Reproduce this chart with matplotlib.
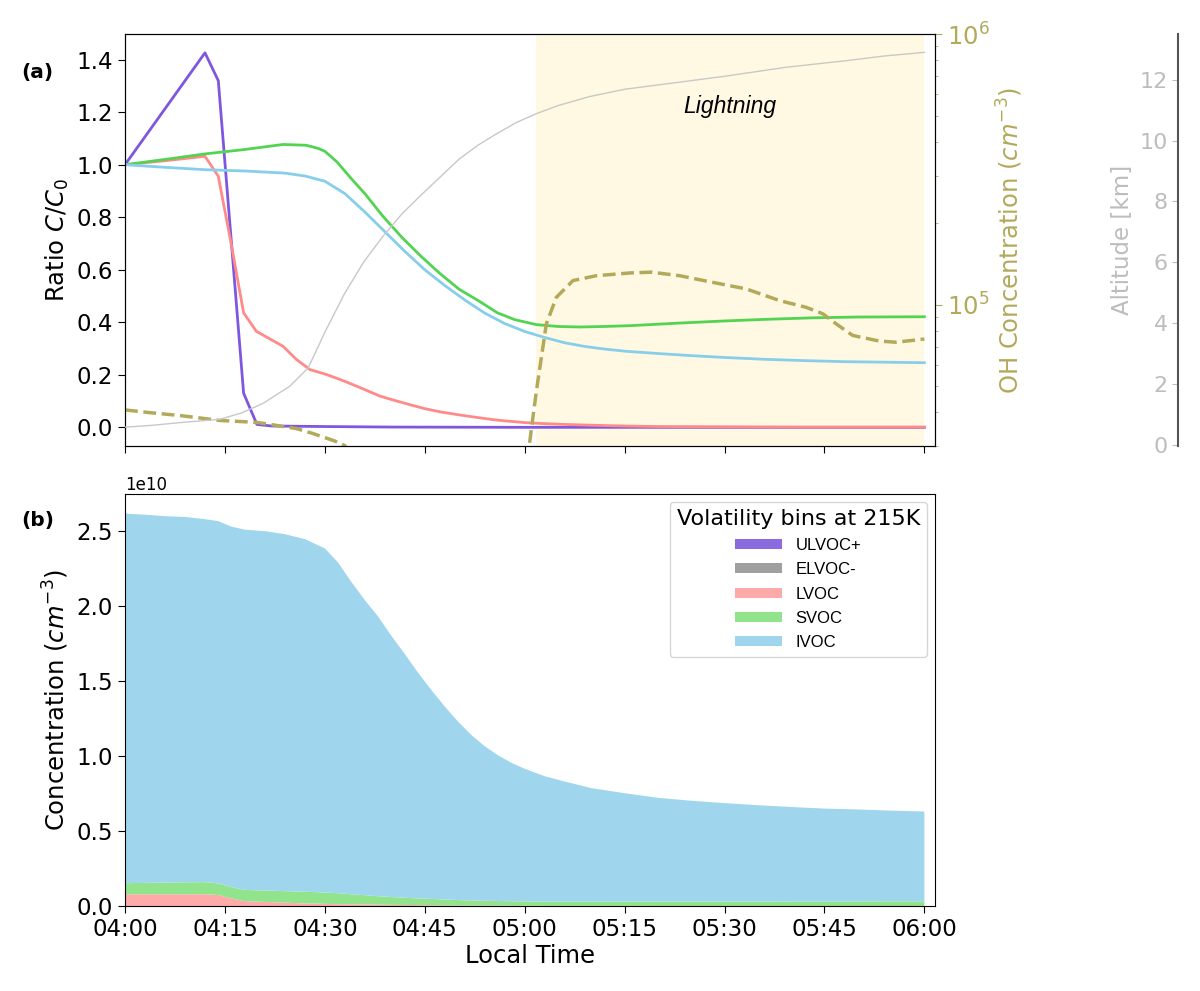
#!/usr/bin/env python3
"""Volatility-bin ratios along the trajectory (a) and stacked concentrations (b)."""

import numpy as np
import matplotlib
matplotlib.use("Agg")
import matplotlib.pyplot as plt
from matplotlib.ticker import FuncFormatter, MultipleLocator

OUT = "out.png"
PURPLE = "#7E57DE"
RED = "#FF8A8A"
GREEN = "#52D452"
BLUE = "#87CEEB"
OH_COLOR = "#B3A95B"
ALT_LINE = "#C8C8C8"
ALT_TEXT = "#BDBDBD"
LIGHTNING_FILL = "#FFF9E3"
FILL_COLORS = ["#8C6BE0", "#A0A0A0", "#FFAAAA", "#92E48C", "#A0D6ED"]

# ---- panel (a): ratio C/C0, minutes after 04:00 ----
t_ulvoc = [0, 12, 14, 17.8, 19.8, 22, 30, 40, 60, 90, 120]
r_ulvoc = [1.0, 1.426, 1.32, 0.13, 0.011, 0.005, 0.003, 0.001, 0.0, 0.0, 0.0]

t_lvoc = [0, 6, 12, 14, 16, 17.8, 19.7, 21.5, 23.7, 25.75, 27.75, 30.25, 32.5,
          34.75, 38.25, 40.4, 42.5, 45, 47.5, 50, 53, 56, 60, 63, 66, 70, 75,
          80, 90, 100, 110, 120]
r_lvoc = [1.0, 1.015, 1.032, 0.956, 0.69, 0.436, 0.366, 0.34, 0.309, 0.258,
          0.22, 0.201, 0.18, 0.157, 0.119, 0.103, 0.088, 0.071, 0.058, 0.048,
          0.037, 0.027, 0.018, 0.014, 0.011, 0.008, 0.005, 0.003, 0.002, 0.001,
          0.001, 0.001]

t_svoc = [0, 6, 12, 18, 23.7, 27.2, 29, 30, 31.8, 34.1, 36, 38.7, 41.5, 44.4,
          47.3, 50.2, 53.25, 55.9, 58.5, 61.75, 65, 68.25, 72, 75.75, 83.25, 90,
          96, 103.3, 110, 120]
r_svoc = [1.0, 1.02, 1.041, 1.058, 1.077, 1.074, 1.062, 1.051, 1.011, 0.943,
          0.89, 0.804, 0.725, 0.652, 0.585, 0.525, 0.479, 0.436, 0.41, 0.391,
          0.384, 0.382, 0.384, 0.387, 0.397, 0.405, 0.411, 0.417, 0.42, 0.421]

t_ivoc = [0, 6, 12, 18, 24, 27, 30, 33, 36, 39, 42, 45, 48, 51, 54, 57, 60, 63,
          66, 69, 72, 75, 80, 85, 90, 96, 102, 108, 114, 120]
r_ivoc = [1.0, 0.99, 0.981, 0.976, 0.968, 0.957, 0.937, 0.89, 0.82, 0.745,
          0.67, 0.60, 0.54, 0.485, 0.435, 0.395, 0.365, 0.342, 0.322, 0.308,
          0.298, 0.29, 0.281, 0.273, 0.266, 0.259, 0.254, 0.25, 0.248, 0.246]

# altitude of the air parcel [km]
t_alt = [0, 4, 8.25, 14.25, 17.5, 20.7, 24.75, 27.5, 30, 32.9, 35.8, 38.7, 41.6,
         44.4, 47.3, 50.2, 53, 55.9, 58.8, 61.7, 65, 69.8, 75.1, 83.25, 89.9,
         99.25, 108, 114, 120]
altitude = [0.58, 0.64, 0.73, 0.84, 1.05, 1.36, 1.93, 2.53, 3.7, 4.95, 6.0,
            6.85, 7.6, 8.2, 8.8, 9.4, 9.85, 10.24, 10.6, 10.88, 11.15, 11.45,
            11.69, 11.92, 12.11, 12.41, 12.62, 12.78, 12.9]

# OH concentration [cm-3]
t_oh = [0, 4, 8.25, 14.25, 19.75, 22, 25.75, 28, 29.75, 31.5, 33, 35, 37, 58,
        60, 61.75, 63.25, 64.75, 67.25, 70.75, 75.75, 79, 83.25, 88.25, 93.25,
        98.25, 102.25, 104.75, 106.75, 109.25, 113.25, 115.75, 120]
oh_conc = [4.08e4, 3.98e4, 3.89e4, 3.73e4, 3.67e4, 3.60e4, 3.48e4, 3.35e4,
           3.24e4, 3.13e4, 3.01e4, 2.5e4, 1.3e4, 1.3e4, 2.24e4, 4.79e4,
           8.49e4, 1.064e5, 1.227e5, 1.279e5, 1.309e5, 1.318e5, 1.279e5,
           1.208e5, 1.143e5, 1.035e5, 9.77e4, 9.25e4, 8.49e4, 7.69e4, 7.33e4,
           7.26e4, 7.46e4]

LIGHTNING_START = 61.7
LIGHTNING_END = 120

# ---- panel (b): concentrations [1e10 cm-3] ----
t_conc = [0, 3, 6, 9, 12, 14, 16, 18, 21, 24, 27, 30, 32, 34, 36, 38, 40, 42,
          44, 46, 48, 50, 52, 54, 56, 58, 60, 63, 66, 70, 75, 80, 85, 90, 95,
          100, 105, 110, 115, 120]
c_ulvoc = [0.0] * len(t_conc)
c_elvoc = [0.0] * len(t_conc)
c_lvoc = [0.078, 0.078, 0.078, 0.078, 0.078, 0.073, 0.050, 0.032, 0.027, 0.022,
          0.017, 0.014, 0.012, 0.011, 0.010, 0.009, 0.0075, 0.0065, 0.0055,
          0.005, 0.004, 0.0035, 0.003, 0.0025, 0.002, 0.0016, 0.0013, 0.001,
          0.0007, 0.0005, 0.0003, 0.0002, 0.0001, 0.0001, 0, 0, 0, 0, 0, 0]
c_svoc = [0.074, 0.076, 0.078, 0.080, 0.081, 0.077, 0.075, 0.075, 0.076, 0.077,
          0.078, 0.076, 0.073, 0.067, 0.062, 0.056, 0.052, 0.048, 0.045, 0.042,
          0.039, 0.036, 0.034, 0.032, 0.031, 0.030, 0.029, 0.0285, 0.0285,
          0.0287, 0.029, 0.0293, 0.0296, 0.030, 0.0302, 0.0304, 0.0306, 0.0308,
          0.031, 0.031]
c_ivoc = [2.465, 2.456, 2.444, 2.437, 2.421, 2.417, 2.405, 2.403, 2.397, 2.381,
          2.352, 2.295, 2.205, 2.082, 1.968, 1.865, 1.741, 1.626, 1.505, 1.393,
          1.287, 1.19, 1.103, 1.031, 0.972, 0.923, 0.885, 0.836, 0.801, 0.757,
          0.723, 0.692, 0.672, 0.656, 0.642, 0.63, 0.619, 0.613, 0.605, 0.599]
bin_labels = ["ULVOC+", "ELVOC-", "LVOC", "SVOC", "IVOC"]

TICK_SIZE = 16.5
LABEL_SIZE = 17.5

plt.rcParams.update({"font.family": "DejaVu Sans", "font.size": 15})


def hhmm(x, _pos):
    minutes = int(round(x))
    return f"{4 + minutes // 60:02d}:{minutes % 60:02d}"


def main():
    fig = plt.figure(figsize=(12, 9.91), dpi=100)
    ax = fig.add_axes([0.1042, 0.5499, 0.675, 0.4157])
    axb = fig.add_axes([0.1042, 0.0858, 0.675, 0.4157], sharex=ax)

    # panel (a)
    ax.axvspan(LIGHTNING_START, LIGHTNING_END, color=LIGHTNING_FILL, lw=0, zorder=0)
    ax.plot(t_ulvoc, r_ulvoc, color=PURPLE, lw=2.0)
    ax.plot(t_lvoc, r_lvoc, color=RED, lw=2.0)
    ax.plot(t_svoc, r_svoc, color=GREEN, lw=2.0)
    ax.plot(t_ivoc, r_ivoc, color=BLUE, lw=2.0)
    ax.set_ylabel("Ratio $C/C_0$", fontsize=LABEL_SIZE)
    ax.tick_params(axis="x", labelbottom=False, length=5)
    ax.tick_params(axis="y", labelsize=TICK_SIZE, length=5)
    ax.text(90.8, 1.22, "Lightning", style="italic", ha="center", va="center",
            fontsize=16.5, family=["Liberation Sans", "DejaVu Sans"])

    ax_oh = ax.twinx()
    ax_oh.plot(t_oh, oh_conc, color=OH_COLOR, lw=2.5, ls="--")
    ax_oh.set_yscale("log")
    ax_oh.set_ylim(3e4, 1e6)
    ax_oh.set_ylabel("OH Concentration ($cm^{-3}$)", color=OH_COLOR,
                     fontsize=LABEL_SIZE)
    ax_oh.tick_params(axis="y", which="both", colors=OH_COLOR, labelsize=17.5)
    ax_oh.tick_params(axis="y", which="major", length=5)

    ax_alt = ax.twinx()
    ax_alt.plot(t_alt, altitude, color=ALT_LINE, lw=1.0)
    ax_alt.set_ylim(-0.04, 13.5)
    for side in ["top", "bottom", "right"]:
        ax_alt.spines[side].set_visible(False)
    ax_alt.spines["left"].set_visible(True)
    ax_alt.spines["left"].set_position(("axes", 1.3))
    ax_alt.spines["left"].set_color("#555555")
    ax_alt.spines["left"].set_linewidth(1.5)
    ax_alt.yaxis.set_ticks_position("left")
    ax_alt.yaxis.set_label_position("left")
    ax_alt.yaxis.set_major_locator(MultipleLocator(2))
    ax_alt.tick_params(axis="y", colors=ALT_TEXT, labelsize=16, length=4)
    ax_alt.set_ylabel("Altitude [km]", color=ALT_TEXT, fontsize=16.5)

    # panel (b)
    conc = np.array([c_ulvoc, c_elvoc, c_lvoc, c_svoc, c_ivoc]) * 1e10
    axb.stackplot(t_conc, conc, colors=FILL_COLORS, labels=bin_labels)
    axb.set_xlim(0, 121.6)
    axb.xaxis.set_major_locator(MultipleLocator(15))
    axb.xaxis.set_major_formatter(FuncFormatter(hhmm))
    axb.tick_params(axis="both", labelsize=TICK_SIZE, length=5)
    axb.yaxis.get_offset_text().set_fontsize(12)
    axb.set_ylabel("Concentration ($cm^{-3}$)", fontsize=LABEL_SIZE)
    axb.set_xlabel("Local Time", fontsize=LABEL_SIZE, labelpad=2)
    leg = axb.legend(loc="upper right", title="Volatility bins at 215K",
                     title_fontsize=16, handlelength=2.8, handleheight=0.55,
                     labelspacing=0.55,
                     prop={"family": ["Liberation Sans", "DejaVu Sans"], "size": 12})
    leg.get_frame().set_edgecolor("#CCCCCC")

    fig.text(0.018, 0.927, "(a)", fontweight="bold", fontsize=14.5, va="center")
    fig.text(0.018, 0.475, "(b)", fontweight="bold", fontsize=14.5, va="center")

    fig.savefig(OUT, dpi=100, facecolor="white")
    plt.close(fig)


if __name__ == "__main__":
    main()
